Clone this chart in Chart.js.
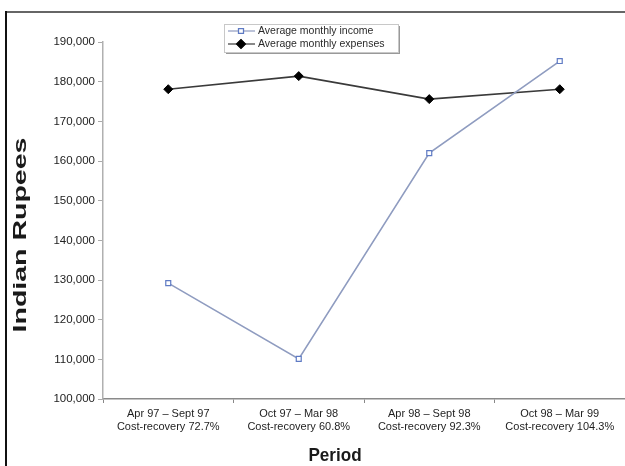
<!DOCTYPE html>
<html>
<head>
<meta charset="utf-8">
<script src="https://cdn.jsdelivr.net/npm/chart.js@4/dist/chart.umd.min.js"></script>
<style>
  html, body { margin: 0; padding: 0; background: #fff; }
  #wrap { position: relative; width: 625px; height: 466px; }
</style>
</head>
<body>
<div id="wrap"><canvas id="c" width="625" height="466"></canvas></div>
<script>
// ---- data ----
const periods = ["Apr 97 \u2013 Sept 97", "Oct 97 \u2013 Mar 98", "Apr 98 \u2013 Sept 98", "Oct 98 \u2013 Mar 99"];
const costRecovery = ["Cost-recovery 72.7%", "Cost-recovery 60.8%", "Cost-recovery 92.3%", "Cost-recovery 104.3%"];
const avgMonthlyIncome = [129200, 110100, 162000, 185200];
const avgMonthlyExpenses = [178100, 181400, 175600, 178100];
const yMin = 100000, yMax = 190000, yStep = 10000;
const yTitle = "Indian Rupees";
const xTitle = "Period";

const labels = periods.map((p, i) => [p, costRecovery[i]]);
const FONT = "'Liberation Sans', Arial, sans-serif";

const decor = {
  id: 'decor',
  afterDraw(chart) {
    const ctx = chart.ctx;
    ctx.save();
    // frame (top and left edges)
    ctx.fillStyle = '#666';
    ctx.fillRect(5, 11, 620, 2);
    ctx.fillStyle = '#111';
    ctx.fillRect(5, 11, 2, 455);

    // y axis title
    ctx.fillStyle = '#1a1a1a';
    ctx.font = 'bold 19px ' + FONT;
    ctx.textAlign = 'center';
    ctx.textBaseline = 'middle';
    ctx.save();
    ctx.translate(21, 235);
    ctx.rotate(-Math.PI / 2);
    ctx.scale(1.5, 1);
    ctx.fillText(yTitle, 0, 0);
    ctx.restore();

    // x axis title
    ctx.save();
    ctx.translate(335, 456);
    ctx.scale(0.9, 1);
    ctx.fillText(xTitle, 0, 0);
    ctx.restore();

    // legend box
    const bx = 224, by = 24, bw = 174, bh = 28;
    ctx.fillStyle = '#fff';
    ctx.fillRect(bx, by, bw, bh);
    ctx.fillStyle = '#999';
    ctx.fillRect(bx + bw, by + 2, 2, bh);
    ctx.fillRect(bx + 2, by + bh, bw, 2);
    ctx.strokeStyle = '#c8c8c8';
    ctx.lineWidth = 1;
    ctx.strokeRect(bx + 0.5, by + 0.5, bw, bh);

    const rows = [31, 44];
    chart.data.datasets.forEach((ds, i) => {
      const y = rows[i];
      ctx.strokeStyle = ds.borderColor;
      ctx.lineWidth = 1.2;
      ctx.beginPath();
      ctx.moveTo(228, y);
      ctx.lineTo(255, y);
      ctx.stroke();
      Chart.helpers.drawPoint(ctx, {
        pointStyle: ds.pointStyle,
        radius: ds.pointRadius,
        borderWidth: ds.pointBorderWidth || 1,
        rotation: 0
      }, 241, y);
      ctx.fillStyle = ds.pointBackgroundColor;
      ctx.strokeStyle = ds.pointBorderColor;
      ctx.lineWidth = ds.pointBorderWidth || 1;
      ctx.fill();
      ctx.stroke();
      ctx.fillStyle = '#2a2a2a';
      ctx.font = '10.5px ' + FONT;
      ctx.textAlign = 'left';
      ctx.textBaseline = 'middle';
      ctx.fillText(ds.label, 258, y);
    });
    ctx.restore();
  }
};

new Chart(document.getElementById('c'), {
  type: 'line',
  data: {
    labels: labels,
    datasets: [
      {
        label: 'Average monthly income',
        data: avgMonthlyIncome,
        borderColor: '#8f9cc0',
        borderWidth: 1.6,
        pointStyle: 'rect',
        pointRadius: 3.5,
        pointBackgroundColor: '#ffffff',
        pointBorderColor: '#5f7bc4',
        pointBorderWidth: 1.2,
        tension: 0
      },
      {
        label: 'Average monthly expenses',
        data: avgMonthlyExpenses,
        borderColor: '#3a3a3a',
        borderWidth: 1.6,
        pointStyle: 'rectRot',
        pointRadius: 4.5,
        pointBackgroundColor: '#000000',
        pointBorderColor: '#000000',
        pointBorderWidth: 1,
        tension: 0
      }
    ]
  },
  options: {
    responsive: false,
    animation: false,
    devicePixelRatio: 1,
    layout: { autoPadding: false, padding: { top: 42, left: 0, right: 0, bottom: 0 } },
    plugins: { legend: { display: false }, tooltip: { enabled: false } },
    scales: {
      x: {
        type: 'category',
        offset: true,
        afterFit(scale) { scale.height = 67; scale.paddingRight = 0; scale.paddingLeft = 0; },
        grid: { display: true, drawOnChartArea: false, drawTicks: true, tickLength: 4, color: '#888', offset: true },
        border: { display: true, color: '#8a8a8a', width: 1.5 },
        ticks: {
          color: '#1e1e1e',
          font: { family: FONT, size: 11 },
          padding: 4,
          maxRotation: 0,
          autoSkip: false
        }
      },
      y: {
        min: yMin,
        max: yMax,
        afterFit(scale) { scale.width = 103; scale.paddingTop = 0; scale.paddingBottom = 0; },
        grid: { display: true, drawOnChartArea: false, drawTicks: true, tickLength: 5, color: '#aaa' },
        border: { display: true, color: '#b0b0b0', width: 1.5 },
        ticks: {
          stepSize: yStep,
          color: '#222',
          font: { family: FONT, size: 11.5 },
          padding: 3,
          callback: v => v.toLocaleString('en-US')
        }
      }
    }
  },
  plugins: [decor]
});
</script>
</body>
</html>
